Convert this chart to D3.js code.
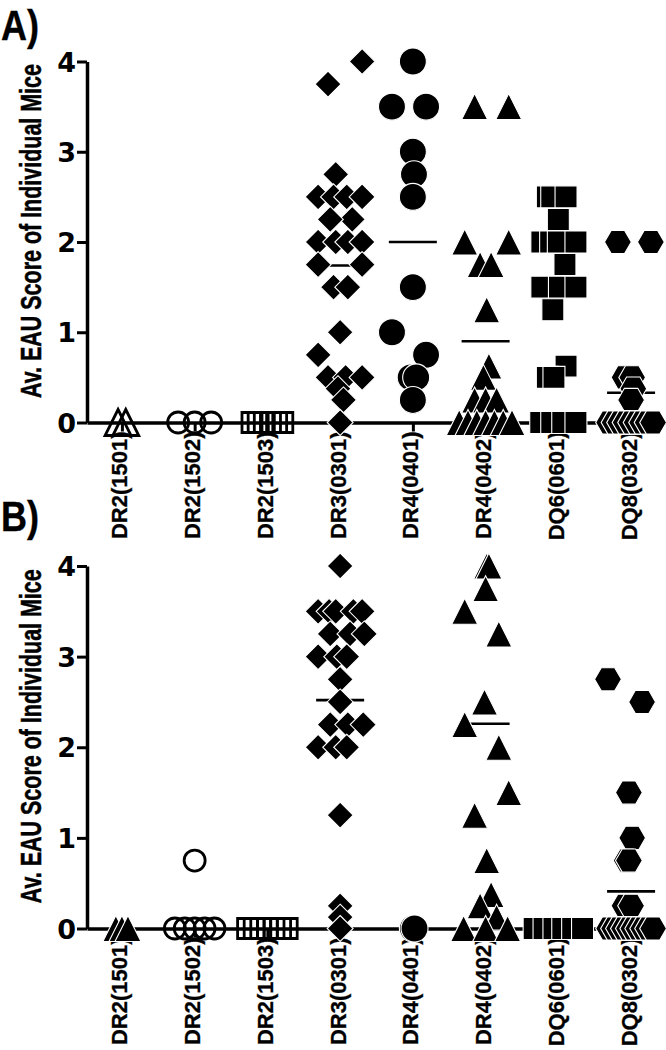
<!DOCTYPE html>
<html><head><meta charset="utf-8">
<script src="https://cdn.jsdelivr.net/npm/d3@7"></script>
<style>body{margin:0;background:#fff}svg{display:block}</style>
</head><body><svg id="c" width="666" height="1050"></svg>
<script>
// ---------- data ----------
const categories = ["DR2(1501)","DR2(1502)","DR2(1503)","DR3(0301)","DR4(0401)","DR4(0402)","DQ6(0601)","DQ8(0302)"];
const yTicks = [0,1,2,3,4];
const panelLabels = ["A)","B)"];
const yTitle = "Av. EAU Score of Individual Mice";

// Panel A: individual mouse scores per category
const valuesA = [
  [0,0],
  [0,0,0],
  [0,0,0,0,0,0],
  [4,3.75,2.75,2.5,2.5,2.5,2.5,2.25,2.25,2,2,2,2,1.75,1.75,1.5,1.5,1,0.75,0.5,0.5,0.5,0.375,0.25,0],
  [4,3.5,3.5,3,2.75,2.5,1.5,1,0.75,0.5,0.5,0.25],
  [3.5,3.5,2,2,1.75,1.75,1.25,0.625,0.5,0.25,0.25,0.25,0,0,0,0,0,0,0],
  [2.5,2.5,2.5,2.25,2,2,2,2,1.75,1.5,1.5,1.5,1.25,0.625,0.5,0.5,0,0,0,0],
  [2,2,0.5,0.5,0.375,0.25,0,0,0,0,0,0,0,0,0]
];
// scatter slot (horizontal dodge order) of each point
const slotsA = [
  [-0.35,0.35],
  [-1.5,0,1.5],
  [-1.4,-0.84,-0.28,0.28,0.84,1.4],
  [2,-1.1,-0.4,-2,-0.6,0.6,2,1.1,-0.9,-2,-0.4,0.7,2,-2,2,-0.6,0.7,0,-2,-1.1,0.5,2,-0.2,0.3,0],
  [0,-1.9,1.2,0,0.1,0,0,-1.9,1.2,-0.2,0.3,0],
  [-1,2.1,-1.9,2.1,-0.5,0.5,0.1,0.3,-0.2,-1,0,1,-2.4,-1.6,-0.8,0,0.8,1.6,2.4],
  [-1,-0.6,0.7,0,-1.5,-0.7,0,1.6,0.6,-1.5,0.1,1.6,-0.5,0.7,-1,-0.4,-1.6,-0.6,0.4,1.6],
  [-1.2,1.8,-0.6,0.1,0.2,0,-2,-1.5,-1,-0.5,0,0.5,1,1.5,2]
];
const meansA = [null,null,null,1.74,2.0,0.9,1.5,0.33];

// Panel B
const valuesB = [
  [0,0,0],
  [0.75,0,0,0,0,0],
  [0,0,0,0,0,0,0],
  [4,3.5,3.5,3.5,3.5,3.5,3.25,3.25,3.25,3,3,3,2.75,2.5,2.25,2.25,2.25,2,2,2,1.25,0.25,0.125,0],
  [0,0],
  [4,4,3.75,3.5,3.25,2.5,2.25,2,1.5,1.25,0.75,0.375,0.25,0.125,0,0,0],
  [0,0,0,0,0,0],
  [2.75,2.5,1.5,1,0.75,0.75,0.25,0.25,0,0,0,0,0,0,0,0,0,0]
];
const slotsB = [
  [-0.55,0,0.55],
  [0,-1.8,-0.9,0,0.9,1.8],
  [-1.8,-1.2,-0.6,0,0.6,1.2,1.8],
  [0,-2,-1,-0.4,1.2,2,-0.9,0.9,2.2,-2,-0.3,0.6,0,0,-0.9,0.7,2.1,-2,-0.4,0.6,0,0,0,0],
  [0,0.15],
  [0.1,0.3,0,-1.9,1.2,-0.1,-1.9,1.2,2.1,-1,0.1,0.5,-0.5,1,-2,0,2],
  [-2.2,-1.3,-0.4,0.4,1.3,2.2],
  [-2.1,1,-0.2,0.1,-0.4,-0.2,-0.6,0,-2,-1.55,-1.1,-0.65,-0.2,0.2,0.65,1.1,1.55,2]
];
const meansB = [null,null,null,2.52,null,2.26,null,0.41];

// ---------- styling / layout ----------
const shapesA = ["triangleOpen","circleOpen","squareOpen","diamond","circle","triangle","square","hexagon"];
const shapesB = ["triangle","circleOpen","squareOpen","diamond","circle","triangle","square","hexagon"];
const slotPx = 11;
const FONT = "'Liberation Sans', Arial, Helvetica, sans-serif";

const svg = d3.select("#c");
const x = d3.scalePoint().domain(categories).range([87, 666]).padding(0.48);

function shapePath(s) {
  switch (s) {
    case "triangle": case "triangleOpen": return "M0,-13L13,13L-13,13Z";
    case "diamond": return "M0,-13L13,0L0,13L-13,0Z";
    case "square": return "M-11,-11H11V11H-11Z";
    case "squareOpen": return "M-10,-10H10V10H-10Z";
    case "circle": return d3.arc()({innerRadius:0,outerRadius:13.5,startAngle:0,endAngle:2*Math.PI});
    case "circleOpen": return d3.arc()({innerRadius:0,outerRadius:10.5,startAngle:0,endAngle:2*Math.PI});
    case "hexagon": {
      const r = 13.4, p = d3.path();
      for (let i = 0; i < 6; i++) {
        const a = i * Math.PI / 3;
        if (i === 0) p.moveTo(r*Math.cos(a), r*Math.sin(a)); else p.lineTo(r*Math.cos(a), r*Math.sin(a));
      }
      p.closePath(); return p.toString();
    }
  }
}
const isOpen = s => s.endsWith("Open");

// condensed text: scale a text horizontally (in its own frame) to a target length
function condense(sel, target) {
  const w = sel.node().getComputedTextLength();
  return target / w;
}

function drawPanel(label, yTop, yBottom, values, slots, means, shapes, labelBaseline) {
  const y = d3.scaleLinear().domain([0,4]).range([yBottom, yTop]);
  const g = svg.append("g");

  // panel letter
  const pl = svg.append("text")
    .attr("font-family", FONT).attr("font-weight", "bold")
    .attr("font-size", 43).attr("stroke", "#000").attr("stroke-width", 0.4)
    .text(label);
  pl.attr("transform", `translate(1,${labelBaseline}) scale(${condense(pl, 38)},1)`);

  // y title
  const yt = svg.append("text")
    .attr("text-anchor", "middle")
    .attr("font-family", FONT).attr("font-weight", "bold")
    .attr("font-size", 30).attr("stroke", "#000").attr("stroke-width", 0.5)
    .text(yTitle);
  yt.attr("transform", `translate(41,${(yTop + yBottom) / 2 - 11}) rotate(-90) scale(${condense(yt, 334)},1)`);

  // mean lines (behind points)
  g.append("g").selectAll("line")
    .data(categories.map((c, i) => ({c, m: means[i]})).filter(d => d.m !== null))
    .join("line")
    .attr("x1", d => x(d.c) - 24).attr("x2", d => x(d.c) + 24)
    .attr("y1", d => y(d.m)).attr("y2", d => y(d.m))
    .attr("stroke", "#000").attr("stroke-width", 2.6);

  // y axis
  const ya = g.append("g").attr("transform", "translate(87,0)")
    .call(d3.axisLeft(y).tickValues(yTicks).tickSize(10).tickSizeOuter(0).tickPadding(1).tickFormat(d3.format("d")));
  ya.select(".domain").attr("stroke", "#000").attr("stroke-width", 3.5);
  ya.selectAll(".tick line").attr("stroke", "#000").attr("stroke-width", 3);
  ya.selectAll(".tick text").attr("font-family", "'DejaVu Sans', sans-serif").attr("font-weight", "bold")
    .attr("font-size", 27).attr("fill", "#000").attr("dy", "0.36em");

  // x axis
  const xa = g.append("g").attr("transform", `translate(0,${yBottom})`)
    .call(d3.axisBottom(x).tickSize(9).tickSizeOuter(0));
  xa.select(".domain").attr("stroke", "#000").attr("stroke-width", 3.5);
  xa.selectAll(".tick line").attr("stroke", "#000").attr("stroke-width", 3);
  xa.selectAll(".tick text")
    .attr("transform", "rotate(-90)").attr("x", -9).attr("y", 5).attr("dy", 0)
    .attr("text-anchor", "end")
    .attr("font-family", FONT).attr("font-weight", "bold")
    .attr("font-size", 22).attr("stroke", "#000").attr("stroke-width", 0.3)
    .attr("fill", "#000");

  // points
  categories.forEach((c, i) => {
    const s = shapes[i];
    const pts = values[i].map((v, j) => ({v, slot: slots[i][j]}));
    g.append("g").selectAll("path").data(pts).join("path")
      .attr("d", shapePath(s))
      .attr("transform", d => `translate(${x(c) + d.slot * slotPx},${y(d.v)})`)
      .attr("fill", isOpen(s) ? "none" : "#000")
      .attr("stroke", isOpen(s) ? "#000" : "#fff")
      .attr("stroke-width", isOpen(s) ? 2.8 : 1.1);
  });
}

drawPanel(panelLabels[0], 61.5, 422.5, valuesA, slotsA, meansA, shapesA, 40);
drawPanel(panelLabels[1], 566, 928.5, valuesB, slotsB, meansB, shapesB, 531);
</script></body></html>
